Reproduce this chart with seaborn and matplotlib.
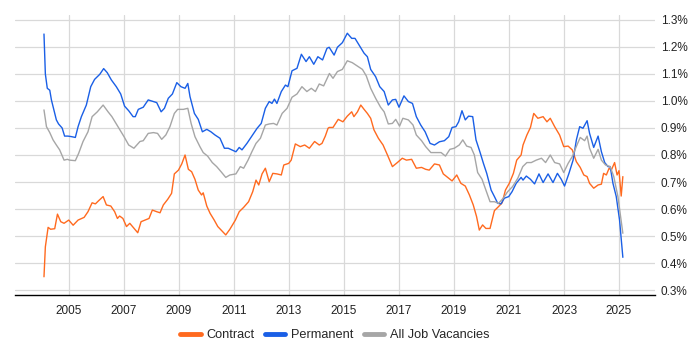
import numpy as np
import pandas as pd
import matplotlib
matplotlib.use("Agg")
import matplotlib.pyplot as plt
import seaborn as sns
from matplotlib.ticker import FuncFormatter
from matplotlib.lines import Line2D

# ---- data (year as decimal, value in %) ----
contract_years = [2004.09, 2004.14, 2004.24, 2004.33, 2004.48, 2004.58, 2004.70, 2004.82, 2004.99, 2005.15,
                  2005.33, 2005.55, 2005.69, 2005.84, 2005.96, 2006.08, 2006.24, 2006.36, 2006.52, 2006.66,
                  2006.76, 2006.84, 2006.96, 2007.09, 2007.21, 2007.39, 2007.50, 2007.62, 2007.76, 2007.91,
                  2008.03, 2008.19, 2008.31, 2008.43, 2008.59, 2008.73, 2008.83, 2008.98, 2009.10, 2009.22,
                  2009.34, 2009.46, 2009.58, 2009.70, 2009.82, 2009.88, 2010.01, 2010.13, 2010.28, 2010.41,
                  2010.55, 2010.70, 2010.85, 2011.05, 2011.19, 2011.35, 2011.53, 2011.68, 2011.80, 2011.90,
                  2012.02, 2012.14, 2012.28, 2012.41, 2012.56, 2012.72, 2012.81, 2012.99, 2013.08, 2013.23,
                  2013.41, 2013.57, 2013.74, 2013.93, 2014.10, 2014.20, 2014.32, 2014.42, 2014.46, 2014.60,
                  2014.79, 2014.96, 2015.12, 2015.28, 2015.36, 2015.49, 2015.61, 2015.73, 2015.85, 2015.97,
                  2016.09, 2016.25, 2016.42, 2016.58, 2016.76, 2016.94, 2017.12, 2017.27, 2017.46, 2017.63,
                  2017.82, 2017.97, 2018.10, 2018.29, 2018.47, 2018.61, 2018.77, 2018.93, 2019.10, 2019.25,
                  2019.41, 2019.56, 2019.70, 2019.82, 2019.92, 2020.04, 2020.16, 2020.31, 2020.47, 2020.62,
                  2020.75, 2020.87, 2021.01, 2021.16, 2021.28, 2021.44, 2021.51, 2021.65, 2021.78, 2021.90,
                  2022.05, 2022.24, 2022.38, 2022.50, 2022.66, 2022.84, 2022.99, 2023.15, 2023.30, 2023.45,
                  2023.59, 2023.72, 2023.84, 2023.93, 2024.08, 2024.24, 2024.36, 2024.44, 2024.54, 2024.64,
                  2024.72, 2024.84, 2024.93, 2025.00, 2025.08, 2025.14]
contract_vals = [0.349, 0.46, 0.532, 0.525, 0.527, 0.581, 0.553, 0.547, 0.559, 0.54,
                 0.559, 0.569, 0.59, 0.623, 0.619, 0.631, 0.646, 0.615, 0.611, 0.59,
                 0.565, 0.574, 0.565, 0.535, 0.547, 0.525, 0.512, 0.553, 0.559, 0.565,
                 0.596, 0.59, 0.586, 0.615, 0.636, 0.658, 0.73, 0.744, 0.767, 0.80,
                 0.747, 0.738, 0.71, 0.67, 0.652, 0.66, 0.611, 0.584, 0.559, 0.535,
                 0.52, 0.504, 0.525, 0.559, 0.59, 0.606, 0.627, 0.664, 0.707, 0.689,
                 0.73, 0.751, 0.701, 0.732, 0.73, 0.726, 0.763, 0.769, 0.781, 0.841,
                 0.831, 0.837, 0.825, 0.85, 0.837, 0.843, 0.87, 0.899, 0.902, 0.902,
                 0.932, 0.923, 0.944, 0.96, 0.942, 0.96, 0.985, 0.969, 0.954, 0.936,
                 0.893, 0.862, 0.837, 0.80, 0.757, 0.772, 0.788, 0.781, 0.784, 0.751,
                 0.754, 0.747, 0.744, 0.767, 0.763, 0.73, 0.717, 0.704, 0.726, 0.695,
                 0.685, 0.652, 0.615, 0.572, 0.522, 0.541, 0.528, 0.528, 0.594, 0.609,
                 0.623, 0.67, 0.695, 0.732, 0.781, 0.80, 0.837, 0.874, 0.902, 0.954,
                 0.936, 0.942, 0.923, 0.936, 0.905, 0.874, 0.831, 0.833, 0.819, 0.775,
                 0.754, 0.726, 0.72, 0.695, 0.677, 0.689, 0.692, 0.732, 0.726, 0.751,
                 0.744, 0.772, 0.726, 0.742, 0.648, 0.72]

permanent_years = [2004.09, 2004.14, 2004.21, 2004.30, 2004.36, 2004.45, 2004.54, 2004.62, 2004.75, 2004.84,
                   2004.96, 2005.09, 2005.23, 2005.33, 2005.45, 2005.63, 2005.79, 2005.93, 2006.12, 2006.26,
                   2006.39, 2006.54, 2006.72, 2006.88, 2007.02, 2007.17, 2007.33, 2007.41, 2007.52, 2007.70,
                   2007.88, 2008.07, 2008.19, 2008.35, 2008.47, 2008.61, 2008.76, 2008.92, 2009.07, 2009.22,
                   2009.32, 2009.40, 2009.56, 2009.70, 2009.85, 2010.01, 2010.16, 2010.31, 2010.49, 2010.65,
                   2010.79, 2010.92, 2011.07, 2011.19, 2011.29, 2011.47, 2011.65, 2011.84, 2011.99, 2012.14,
                   2012.28, 2012.38, 2012.47, 2012.56, 2012.72, 2012.87, 2012.96, 2013.11, 2013.29, 2013.45,
                   2013.62, 2013.74, 2013.90, 2014.05, 2014.22, 2014.38, 2014.46, 2014.64, 2014.76, 2014.94,
                   2015.12, 2015.28, 2015.40, 2015.55, 2015.73, 2015.85, 2015.97, 2016.15, 2016.30, 2016.46,
                   2016.61, 2016.76, 2016.88, 2017.00, 2017.18, 2017.34, 2017.49, 2017.63, 2017.79, 2017.95,
                   2018.13, 2018.29, 2018.47, 2018.65, 2018.81, 2018.93, 2019.07, 2019.17, 2019.29, 2019.41,
                   2019.53, 2019.68, 2019.80, 2019.95, 2020.07, 2020.19, 2020.35, 2020.47, 2020.59, 2020.71,
                   2020.83, 2020.99, 2021.11, 2021.26, 2021.44, 2021.51, 2021.63, 2021.78, 2021.93, 2022.09,
                   2022.24, 2022.42, 2022.60, 2022.76, 2022.90, 2023.02, 2023.18, 2023.33, 2023.45, 2023.57,
                   2023.69, 2023.84, 2023.93, 2024.08, 2024.24, 2024.36, 2024.48, 2024.60, 2024.68, 2024.78,
                   2024.90, 2025.02, 2025.14]
permanent_vals = [1.248, 1.10, 1.047, 1.04, 1.004, 0.967, 0.93, 0.915, 0.90, 0.87,
                  0.87, 0.868, 0.865, 0.905, 0.942, 0.985, 1.053, 1.08, 1.099, 1.12,
                  1.105, 1.078, 1.053, 1.026, 0.981, 0.964, 0.942, 0.942, 0.969, 0.977,
                  1.004, 0.998, 0.994, 0.96, 0.973, 1.01, 1.026, 1.068, 1.053, 1.047,
                  1.065, 1.016, 0.954, 0.932, 0.886, 0.895, 0.886, 0.874, 0.862, 0.825,
                  0.825, 0.819, 0.812, 0.828, 0.819, 0.843, 0.87, 0.899, 0.917, 0.973,
                  0.998, 0.991, 1.007, 0.991, 1.035, 1.059, 1.053, 1.112, 1.121, 1.173,
                  1.146, 1.164, 1.136, 1.164, 1.152, 1.195, 1.199, 1.17, 1.199, 1.216,
                  1.251, 1.232, 1.232, 1.207, 1.177, 1.164, 1.117, 1.09, 1.053, 1.035,
                  0.985, 1.004, 1.006, 0.977, 1.019, 0.998, 0.991, 0.942, 0.911, 0.886,
                  0.843, 0.837, 0.849, 0.853, 0.868, 0.902, 0.905, 0.923, 0.964, 0.93,
                  0.944, 0.942, 0.856, 0.809, 0.769, 0.732, 0.67, 0.646, 0.621, 0.619,
                  0.64, 0.646, 0.664, 0.695, 0.717, 0.707, 0.722, 0.71, 0.693, 0.73,
                  0.698, 0.73, 0.698, 0.732, 0.71, 0.685, 0.732, 0.781, 0.856, 0.905,
                  0.899, 0.927, 0.88, 0.828, 0.87, 0.812, 0.772, 0.757, 0.757, 0.695,
                  0.646, 0.559, 0.421]

all_years = [2004.09, 2004.18, 2004.30, 2004.42, 2004.54, 2004.66, 2004.82, 2004.94, 2005.02, 2005.23,
             2005.35, 2005.51, 2005.69, 2005.84, 2006.03, 2006.24, 2006.42, 2006.56, 2006.78, 2007.00,
             2007.17, 2007.36, 2007.58, 2007.70, 2007.88, 2008.07, 2008.22, 2008.37, 2008.52, 2008.67,
             2008.83, 2008.95, 2009.16, 2009.32, 2009.44, 2009.58, 2009.76, 2009.88, 2010.04, 2010.21,
             2010.37, 2010.53, 2010.70, 2010.85, 2011.07, 2011.23, 2011.35, 2011.51, 2011.65, 2011.80,
             2011.96, 2012.14, 2012.28, 2012.44, 2012.56, 2012.75, 2012.93, 2013.11, 2013.29, 2013.47,
             2013.65, 2013.81, 2013.96, 2014.10, 2014.26, 2014.47, 2014.60, 2014.76, 2014.94, 2015.12,
             2015.30, 2015.48, 2015.67, 2015.81, 2015.97, 2016.15, 2016.33, 2016.46, 2016.61, 2016.76,
             2016.88, 2017.02, 2017.14, 2017.34, 2017.51, 2017.63, 2017.82, 2017.97, 2018.16, 2018.35,
             2018.53, 2018.69, 2018.85, 2019.01, 2019.19, 2019.32, 2019.46, 2019.62, 2019.74, 2019.86,
             2020.02, 2020.16, 2020.31, 2020.47, 2020.62, 2020.79, 2020.95, 2021.13, 2021.32, 2021.50,
             2021.65, 2021.81, 2021.99, 2022.18, 2022.33, 2022.50, 2022.66, 2022.84, 2022.99, 2023.15,
             2023.30, 2023.47, 2023.59, 2023.75, 2023.84, 2023.93, 2024.08, 2024.24, 2024.36, 2024.51,
             2024.68, 2024.81, 2024.96, 2025.14]
all_vals = [0.967, 0.905, 0.883, 0.856, 0.837, 0.819, 0.781, 0.784, 0.781, 0.779,
            0.806, 0.85, 0.886, 0.942, 0.96, 0.985, 0.96, 0.942, 0.905, 0.868,
            0.837, 0.825, 0.85, 0.853, 0.88, 0.883, 0.88, 0.858, 0.874, 0.905,
            0.954, 0.969, 0.969, 0.973, 0.917, 0.868, 0.831, 0.809, 0.796, 0.772,
            0.757, 0.738, 0.717, 0.726, 0.730, 0.757, 0.751, 0.781, 0.812, 0.843,
            0.862, 0.911, 0.915, 0.917, 0.911, 0.954, 0.973, 1.014, 1.026, 1.053,
            1.035, 1.047, 1.035, 1.063, 1.056, 1.102, 1.084, 1.109, 1.117, 1.149,
            1.142, 1.13, 1.117, 1.093, 1.047, 1.01, 0.977, 0.96, 0.915, 0.917,
            0.932, 0.907, 0.936, 0.93, 0.911, 0.874, 0.853, 0.831, 0.809, 0.809,
            0.809, 0.796, 0.821, 0.825, 0.837, 0.856, 0.833, 0.828, 0.80, 0.735,
            0.71, 0.67, 0.627, 0.627, 0.621, 0.64, 0.664, 0.683, 0.714, 0.757,
            0.772, 0.772, 0.781, 0.788, 0.772, 0.80, 0.772, 0.767, 0.735, 0.769,
            0.794, 0.837, 0.865, 0.853, 0.87, 0.825, 0.788, 0.821, 0.781, 0.763,
            0.757, 0.72, 0.646, 0.51]

series_names = ["Contract", "Permanent", "All Job Vacancies"]
series_colors = ["#ff6a1f", "#1a5fe6", "#a6a6a6"]
year_ticks = [2005, 2007, 2009, 2011, 2013, 2015, 2017, 2019, 2021, 2023, 2025]
pct_ticks = [0.3, 0.4, 0.5, 0.6, 0.7, 0.8, 0.9, 1.0, 1.1, 1.2, 1.3]

df = pd.concat([
    pd.DataFrame({"year": contract_years, "value": contract_vals, "series": series_names[0]}),
    pd.DataFrame({"year": permanent_years, "value": permanent_vals, "series": series_names[1]}),
    pd.DataFrame({"year": all_years, "value": all_vals, "series": series_names[2]}),
], ignore_index=True)

sns.set_style("white")
plt.rcParams["font.family"] = ["Liberation Sans", "DejaVu Sans"]

fig = plt.figure(figsize=(7, 3.5), dpi=100)
ax = fig.add_axes([15/700, 1 - 295/350, 640/700, 280/350])

sns.lineplot(data=df, x="year", y="value", hue="series", hue_order=series_names,
             palette=dict(zip(series_names, series_colors)), linewidth=1.0,
             ax=ax, legend=False, sort=True, estimator=None)

ax.set_xlim(2003.036, 2026.309)
ax.set_ylim(0.2815, 1.3185)
ax.set_xticks(year_ticks)
ax.set_xticklabels([str(y) for y in year_ticks])
ax.set_yticks(pct_ticks)
ax.yaxis.set_major_formatter(FuncFormatter(lambda v, p: f"{v:.1f}%"))
ax.yaxis.tick_right()
ax.grid(True, color="#d9d9d9", linewidth=0.9)
ax.set_axisbelow(True)
for s in ["top", "left", "right"]:
    ax.spines[s].set_visible(False)
ax.spines["bottom"].set_color("black")
ax.spines["bottom"].set_linewidth(1.0)
ax.tick_params(axis="x", length=4, width=1, color="black", labelsize=8.5, pad=3, labelcolor="#222222")
ax.tick_params(axis="y", length=0, labelsize=8.5, pad=4, labelcolor="#222222")
ax.set_xlabel("")
ax.set_ylabel("")

handles = [Line2D([0], [0], color=c, linewidth=3.5) for c in series_colors]
fig.legend(handles, series_names, loc="center", bbox_to_anchor=(335/700, 1 - 335/350),
           ncol=3, frameon=False, fontsize=9.2, handlelength=1.6, handletextpad=0.45,
           columnspacing=0.8)

fig.savefig("out.png", dpi=100)
